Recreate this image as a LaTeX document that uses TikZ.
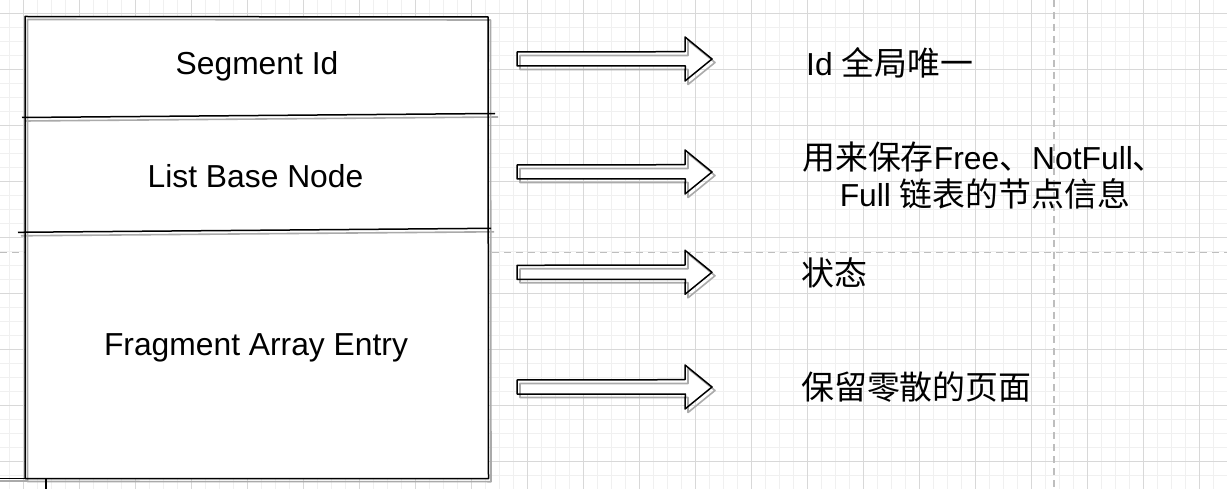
\documentclass[tikz,border=0pt]{standalone}
\usepackage{fontspec}
\setmainfont{Liberation Sans}
\newfontfamily\zhfont[Scale=1.035]{Noto Sans CJK SC}
\newcommand\zh[1]{{\zhfont #1}}
\definecolor{gridminor}{RGB}{240,240,240}
\definecolor{gridmajor}{RGB}{216,216,216}
\definecolor{dashgray}{RGB}{190,190,190}
\definecolor{shadowgray}{RGB}{170,170,170}
\tikzset{
  lbl/.style={inner sep=0pt, font=\fontsize{31.8}{38}\selectfont},
  inkline/.style={draw=black, line width=1.5pt, line join=round},
  shadowline/.style={draw=shadowgray, line width=1.6pt, line join=round},
  dashline/.style={draw=dashgray, line width=1.4pt, dash pattern=on 7pt off 5pt},
}
\newcommand\blockarrow[1]{%
  \fill[white] (517,#1-7) -- (685,#1-7) -- (685,#1-22) -- (712,#1) -- (685,#1+22) -- (685,#1+7) -- (517,#1+7) -- cycle;
  \draw[shadowline, shift={(3,3.5)}] (517,#1-7) -- (685,#1-7) -- (685,#1-22) -- (712,#1) -- (685,#1+22) -- (685,#1+7) -- (517,#1+7) -- cycle;
  \draw[inkline] (517,#1-7) -- (685,#1-7.3) -- (685,#1-22) -- (712,#1) -- (685,#1+22) -- (685.3,#1+7) -- (517,#1+7) -- cycle;
}
\begin{document}
\begin{tikzpicture}[x=1pt,y=-1pt]
\useasboundingbox (0,0) rectangle (1227,489);
\fill[white] (0,0) rectangle (1227,489);
% grid
\foreach \k in {-2,...,86} \draw[gridminor, line width=1pt] ({23.5+14*\k},0) -- ({23.5+14*\k},489);
\foreach \k in {-1,...,34} \draw[gridminor, line width=1pt] (0,{13.7+14*\k}) -- (1227,{13.7+14*\k});
\foreach \k in {0,...,21} \draw[gridmajor, line width=1pt] ({23.5+56*\k},0) -- ({23.5+56*\k},489);
\foreach \k in {0,...,8} \draw[gridmajor, line width=1pt] (0,{13.7+56*\k}) -- (1227,{13.7+56*\k});
% guides
\draw[dashline] (0,252.7) -- (1227,252.7);
\draw[dashline] (1054,0) -- (1054,489);
% box
\fill[white] (25,16.5) rectangle (488.5,479);
\draw[shadowline, shift={(2.5,3)}] (25,16.5) -- (488,17) -- (488.5,478.7) -- (25,478.5) -- cycle;
\draw[shadowline, shift={(3,3.5)}] (22,117.5) -- (495,113.5);
\draw[shadowline, shift={(3,3.5)}] (18,232.3) -- (491,228.3);
\draw[shadowline] (0,481) -- (27,481);
\draw[inkline] (25,16.5) -- (488,17) -- (488.5,478.7) -- (25,478.5) -- cycle;
\draw[inkline] (22,117.5) -- (495,113.5);
\draw[inkline] (18,232.3) -- (491,228.3);
\draw[inkline] (0,478.5) -- (27,478.5);
\draw[inkline] (46,479) -- (46,489);
% field labels
\node[lbl, anchor=base] (seg) at (257,75) {Segment Id};
\node[lbl, anchor=base] (lbn) at (255.5,188) {List Base Node};
\node[lbl, anchor=base] (fae) at (256,355) {Fragment Array Entry};
% arrows
\blockarrow{59}
\blockarrow{172}
\blockarrow{272.3}
\blockarrow{387}
% descriptions
\node[lbl, anchor=base west] (d1) at (806,76) {Id \zh{全局唯一}};
\node[lbl, anchor=base] (d2a) at (984,169.5) {\zh{用来保存}Free\zh{、}NotFull\zh{、}};
\node[lbl, anchor=base] (d2b) at (985,206.5) {Full \zh{链表的节点信息}};
\node[lbl, anchor=base west] (d3) at (801,286) {\zh{状态}};
\node[lbl, anchor=base west] (d4) at (801,399.5) {\zh{保留零散的页面}};
\end{tikzpicture}
\end{document}
